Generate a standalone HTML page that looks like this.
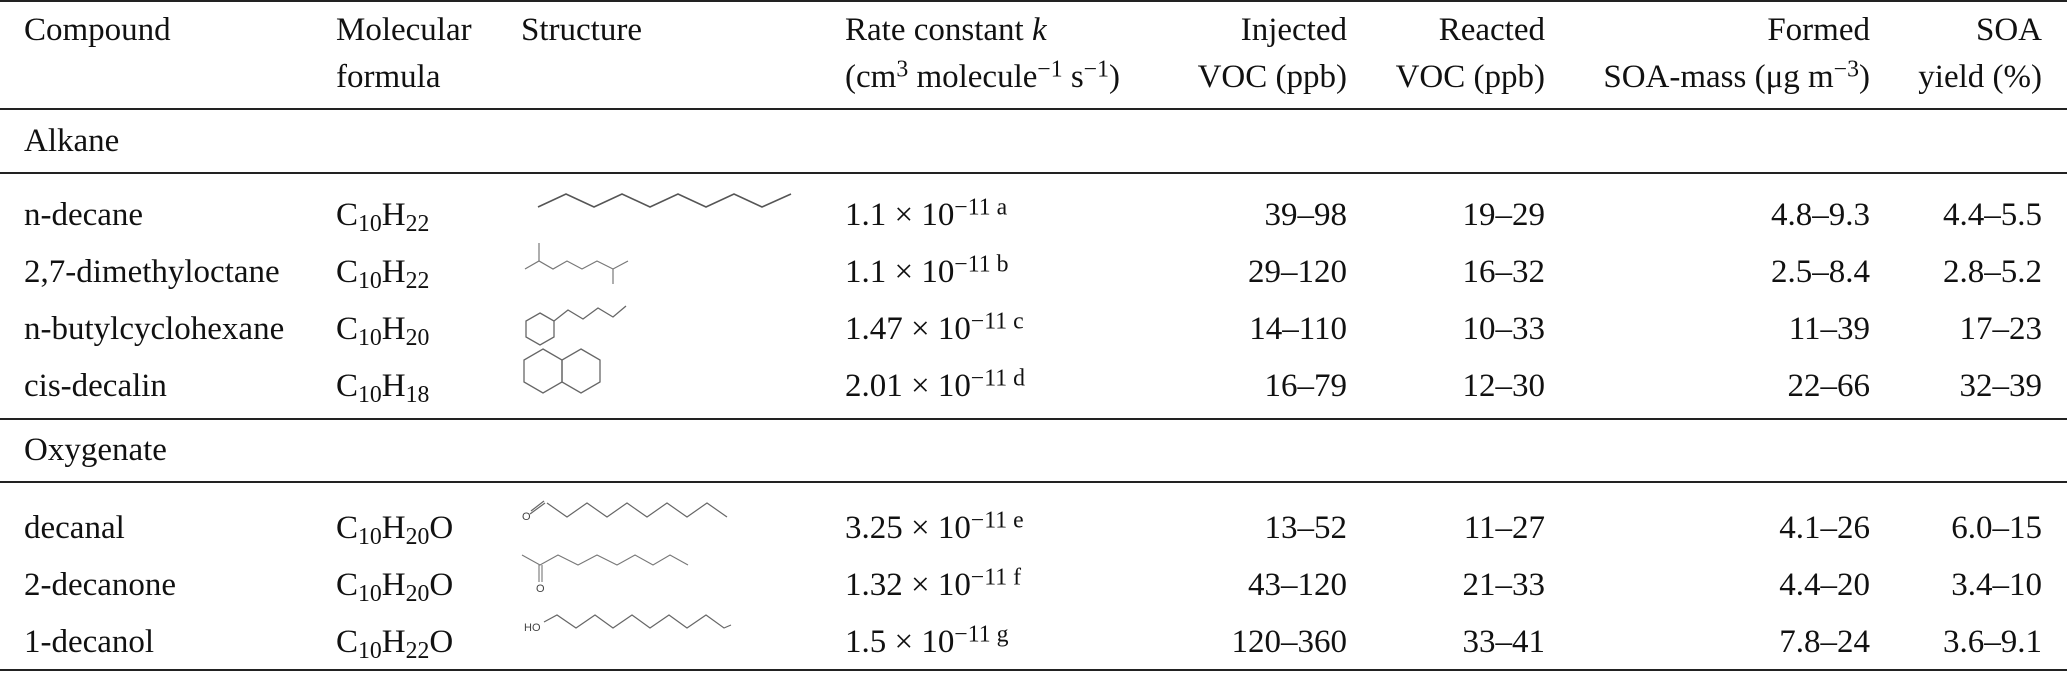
<!DOCTYPE html>
<html><head><meta charset="utf-8">
<style>
html,body{margin:0;padding:0;background:#fff;}
body{width:2067px;height:673px;position:relative;overflow:hidden;font-family:"Liberation Serif",serif;font-size:33px;color:#111;}
.t{position:absolute;white-space:nowrap;line-height:40px;height:40px;}
.r{text-align:right;}
.rule{position:absolute;left:0;width:2067px;background:#222;}
sub{font-size:0.72em;vertical-align:-0.25em;line-height:0;}
sup{font-size:0.72em;vertical-align:0.45em;line-height:0;}
svg{position:absolute;left:0;top:0;}
</style></head>
<body>
<div class="rule" style="top:0;height:2px"></div>
<div class="rule" style="top:108px;height:2px"></div>
<div class="rule" style="top:172px;height:1.5px"></div>
<div class="rule" style="top:418px;height:1.5px"></div>
<div class="rule" style="top:481px;height:1.5px"></div>
<div class="rule" style="top:669px;height:2px"></div>

<!-- header -->
<div class="t" style="left:24px;top:10px">Compound</div>
<div class="t" style="left:336px;top:10px">Molecular</div>
<div class="t" style="left:336px;top:57px">formula</div>
<div class="t" style="left:521px;top:10px">Structure</div>
<div class="t" style="left:845px;top:10px">Rate constant <i>k</i></div>
<div class="t" style="left:845px;top:57px">(cm<sup>3</sup> molecule<sup>−1</sup> s<sup>−1</sup>)</div>
<div class="t r" style="right:720px;top:10px">Injected</div>
<div class="t r" style="right:720px;top:57px">VOC (ppb)</div>
<div class="t r" style="right:522px;top:10px">Reacted</div>
<div class="t r" style="right:522px;top:57px">VOC (ppb)</div>
<div class="t r" style="right:197px;top:10px">Formed</div>
<div class="t r" style="right:197px;top:57px">SOA-mass (μg m<sup>−3</sup>)</div>
<div class="t r" style="right:25px;top:10px">SOA</div>
<div class="t r" style="right:25px;top:57px">yield (%)</div>

<div class="t" style="left:24px;top:121px">Alkane</div>
<div class="t" style="left:24px;top:430px">Oxygenate</div>

<!-- rows -->
<div>
<div class="t" style="left:24px;top:195px">n-decane</div>
<div class="t" style="left:336px;top:195px">C<sub>10</sub>H<sub>22</sub></div>
<div class="t" style="left:845px;top:195px">1.1 × 10<sup>−11 a</sup></div>
<div class="t r" style="right:720px;top:195px">39–98</div>
<div class="t r" style="right:522px;top:195px">19–29</div>
<div class="t r" style="right:197px;top:195px">4.8–9.3</div>
<div class="t r" style="right:25px;top:195px">4.4–5.5</div>
</div>
<div>
<div class="t" style="left:24px;top:252px">2,7-dimethyloctane</div>
<div class="t" style="left:336px;top:252px">C<sub>10</sub>H<sub>22</sub></div>
<div class="t" style="left:845px;top:252px">1.1 × 10<sup>−11 b</sup></div>
<div class="t r" style="right:720px;top:252px">29–120</div>
<div class="t r" style="right:522px;top:252px">16–32</div>
<div class="t r" style="right:197px;top:252px">2.5–8.4</div>
<div class="t r" style="right:25px;top:252px">2.8–5.2</div>
</div>
<div>
<div class="t" style="left:24px;top:309px">n-butylcyclohexane</div>
<div class="t" style="left:336px;top:309px">C<sub>10</sub>H<sub>20</sub></div>
<div class="t" style="left:845px;top:309px">1.47 × 10<sup>−11 c</sup></div>
<div class="t r" style="right:720px;top:309px">14–110</div>
<div class="t r" style="right:522px;top:309px">10–33</div>
<div class="t r" style="right:197px;top:309px">11–39</div>
<div class="t r" style="right:25px;top:309px">17–23</div>
</div>
<div>
<div class="t" style="left:24px;top:366px">cis-decalin</div>
<div class="t" style="left:336px;top:366px">C<sub>10</sub>H<sub>18</sub></div>
<div class="t" style="left:845px;top:366px">2.01 × 10<sup>−11 d</sup></div>
<div class="t r" style="right:720px;top:366px">16–79</div>
<div class="t r" style="right:522px;top:366px">12–30</div>
<div class="t r" style="right:197px;top:366px">22–66</div>
<div class="t r" style="right:25px;top:366px">32–39</div>
</div>
<div>
<div class="t" style="left:24px;top:508px">decanal</div>
<div class="t" style="left:336px;top:508px">C<sub>10</sub>H<sub>20</sub>O</div>
<div class="t" style="left:845px;top:508px">3.25 × 10<sup>−11 e</sup></div>
<div class="t r" style="right:720px;top:508px">13–52</div>
<div class="t r" style="right:522px;top:508px">11–27</div>
<div class="t r" style="right:197px;top:508px">4.1–26</div>
<div class="t r" style="right:25px;top:508px">6.0–15</div>
</div>
<div>
<div class="t" style="left:24px;top:565px">2-decanone</div>
<div class="t" style="left:336px;top:565px">C<sub>10</sub>H<sub>20</sub>O</div>
<div class="t" style="left:845px;top:565px">1.32 × 10<sup>−11 f</sup></div>
<div class="t r" style="right:720px;top:565px">43–120</div>
<div class="t r" style="right:522px;top:565px">21–33</div>
<div class="t r" style="right:197px;top:565px">4.4–20</div>
<div class="t r" style="right:25px;top:565px">3.4–10</div>
</div>
<div>
<div class="t" style="left:24px;top:622px">1-decanol</div>
<div class="t" style="left:336px;top:622px">C<sub>10</sub>H<sub>22</sub>O</div>
<div class="t" style="left:845px;top:622px">1.5 × 10<sup>−11 g</sup></div>
<div class="t r" style="right:720px;top:622px">120–360</div>
<div class="t r" style="right:522px;top:622px">33–41</div>
<div class="t r" style="right:197px;top:622px">7.8–24</div>
<div class="t r" style="right:25px;top:622px">3.6–9.1</div>
</div>

<svg width="2067" height="673" fill="none" stroke="#555" stroke-width="1.6">
<polyline points="538,207 566,194 594,207 622,194 650,207 678,194 706,207 734,194 762,207 791,194"/>
<g stroke="#777" stroke-width="1.2">
<polyline points="525,269 539,261 553,269 567,261 582,269 597,261 613,269 628,261"/>
<line x1="539" y1="261" x2="539" y2="243"/><line x1="613" y1="269" x2="613" y2="284"/>
</g>
<g stroke="#666" stroke-width="1.3">
<polygon points="540,313 554,321 554,337 540,345 526,337 526,321"/>
<polyline points="554,321 568,310 583,319 598,308 613,317 626,306"/>
</g>
<g stroke="#666" stroke-width="1.3">
<polygon points="543,349 562,360 562,382 543,393 524,382 524,360"/>
<polygon points="581,349 600,360 600,382 581,393 562,382 562,360"/>
</g>
<g stroke="#666" stroke-width="1.2">
<polyline points="547,503 567,517 587,503 607,517 627,503 647,517 667,503 687,517 707,503 727,517"/>
<line x1="530" y1="514" x2="545" y2="503"/>
<line x1="531" y1="511" x2="544" y2="501"/>
</g>
<g stroke="#777" stroke-width="1.1">
<polyline points="522,555 540,565 558,555 578,565 597,555 617,565 635,555 653,565 670,555 688,565"/>
<line x1="539" y1="565" x2="539" y2="582"/>
<line x1="542" y1="565" x2="542" y2="582"/>
</g>
<g stroke="#666" stroke-width="1.2">
<polyline points="544,622 557,615 576,628 595,615 613,628 632,615 650,628 669,615 687,628 706,615 724,628 731,625"/>
</g>
<g font-family="Liberation Sans, sans-serif" font-size="11" fill="#444" stroke="none">
<text x="522" y="520">O</text>
<text x="536" y="592">O</text>
<text x="524" y="631">HO</text>
</g>
</svg>
</body></html>
